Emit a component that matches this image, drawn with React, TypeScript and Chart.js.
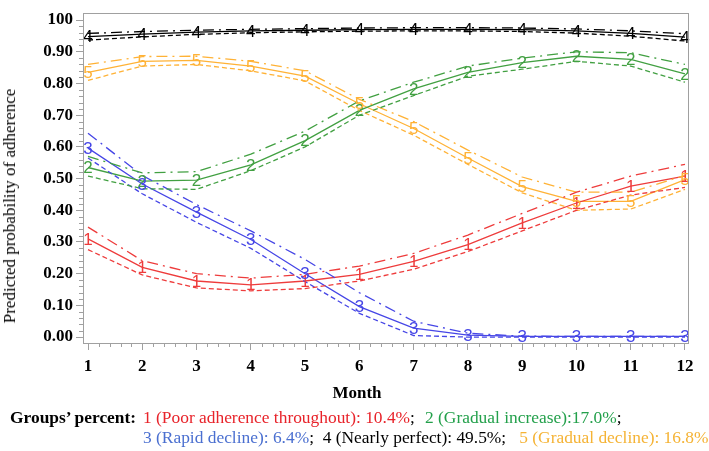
import React, { useEffect, useRef } from "react";
import { Chart, registerables } from "chart.js";

Chart.register(...registerables);

// ---------- data ----------
const months = [1, 2, 3, 4, 5, 6, 7, 8, 9, 10, 11, 12];
const yTickValues = [0, 0.1, 0.2, 0.3, 0.4, 0.5, 0.6, 0.7, 0.8, 0.9, 1.0];
const yTickLabels = ["0.00", "0.10", "0.20", "0.30", "0.40", "0.50", "0.60", "0.70", "0.80", "0.90", "100"];

// Group 1: Poor adherence throughout
const g1Est = [0.31, 0.22, 0.177, 0.165, 0.177, 0.198, 0.239, 0.292, 0.36, 0.423, 0.476, 0.508];
const g1Lo = [0.276, 0.196, 0.155, 0.146, 0.153, 0.177, 0.214, 0.27, 0.335, 0.4, 0.448, 0.472];
const g1Hi = [0.347, 0.241, 0.2, 0.186, 0.198, 0.224, 0.264, 0.322, 0.39, 0.457, 0.508, 0.545];

// Group 2: Gradual increase
const g2Est = [0.535, 0.492, 0.495, 0.543, 0.62, 0.715, 0.783, 0.835, 0.866, 0.886, 0.876, 0.83];
const g2Lo = [0.508, 0.468, 0.466, 0.525, 0.6, 0.7, 0.762, 0.823, 0.845, 0.87, 0.855, 0.804];
const g2Hi = [0.57, 0.518, 0.522, 0.577, 0.65, 0.745, 0.804, 0.855, 0.88, 0.9, 0.897, 0.86];

// Group 3: Rapid decline
const g3Est = [0.596, 0.483, 0.394, 0.308, 0.2, 0.096, 0.028, 0.006, 0.002, 0.002, 0.002, 0.002];
const g3Lo = [0.565, 0.452, 0.362, 0.28, 0.175, 0.075, 0.005, 0.0, 0.0, 0.0, 0.0, 0.0];
const g3Hi = [0.643, 0.51, 0.418, 0.335, 0.245, 0.14, 0.05, 0.012, 0.003, 0.002, 0.002, 0.002];

// Group 4: Nearly perfect
const g4Est = [0.948, 0.956, 0.962, 0.966, 0.968, 0.97, 0.971, 0.971, 0.97, 0.966, 0.958, 0.946];
const g4Lo = [0.937, 0.947, 0.955, 0.96, 0.963, 0.965, 0.966, 0.966, 0.964, 0.959, 0.949, 0.934];
const g4Hi = [0.958, 0.964, 0.968, 0.971, 0.973, 0.975, 0.976, 0.976, 0.975, 0.972, 0.966, 0.957];

// Group 5: Gradual decline
const g5Est = [0.835, 0.87, 0.873, 0.855, 0.823, 0.736, 0.658, 0.565, 0.475, 0.428, 0.428, 0.497];
const g5Lo = [0.81, 0.855, 0.86, 0.84, 0.808, 0.715, 0.637, 0.545, 0.455, 0.4, 0.404, 0.466];
const g5Hi = [0.86, 0.885, 0.886, 0.87, 0.84, 0.75, 0.68, 0.59, 0.505, 0.457, 0.457, 0.51];

const groupIds = ["1", "2", "3", "4", "5"];
const groupColors = ["#ee3c3c", "#42a042", "#4646e6", "#000000", "#ffb236"];
const groupNames = ["1 (Poor adherence throughout): 10.4%", "2 (Gradual increase):17.0%", "3 (Rapid decline): 6.4%", "4 (Nearly perfect): 49.5%", "5 (Gradual decline): 16.8%"];
const legendTextColors = ["#e8232a", "#23a04b", "#4a6fd0", "#000000", "#f5b335"];

const SERIF = '"Liberation Serif", "Times New Roman", serif';

const groups = [
  { est: g1Est, lo: g1Lo, hi: g1Hi },
  { est: g2Est, lo: g2Lo, hi: g2Hi },
  { est: g3Est, lo: g3Lo, hi: g3Hi },
  { est: g4Est, lo: g4Lo, hi: g4Hi },
  { est: g5Est, lo: g5Lo, hi: g5Hi },
];

function toPts(arr: number[]) {
  return months.map((m, i) => ({ x: m, y: arr[i] }));
}

function buildDatasets() {
  const ds: any[] = [];
  groups.forEach((g, gi) => {
    const color = groupColors[gi];
    ds.push({
      label: `G${groupIds[gi]} lower`,
      data: toPts(g.lo),
      borderColor: color,
      borderWidth: 1.3,
      borderDash: [5, 3],
      pointRadius: 0,
      fill: false,
    });
    ds.push({
      label: `G${groupIds[gi]} upper`,
      data: toPts(g.hi),
      borderColor: color,
      borderWidth: 1.3,
      borderDash: [11, 5, 2, 5],
      pointRadius: 0,
      fill: false,
    });
  });
  groups.forEach((g, gi) => {
    const color = groupColors[gi];
    ds.push({
      label: `Group ${groupIds[gi]}`,
      data: toPts(g.est),
      borderColor: color,
      borderWidth: 1.3,
      pointRadius: 0,
      fill: false,
      markerText: groupIds[gi],
    });
  });
  return ds;
}

const markerPlugin = {
  id: "markerText",
  afterDatasetsDraw(chart: any) {
    const ctx = chart.ctx;
    chart.data.datasets.forEach((ds: any, i: number) => {
      if (!ds.markerText) return;
      const meta = chart.getDatasetMeta(i);
      ctx.save();
      ctx.fillStyle = ds.borderColor;
      ctx.font = '17px "Liberation Sans", Arial, sans-serif';
      ctx.textAlign = "center";
      ctx.textBaseline = "middle";
      meta.data.forEach((pt: any) => ctx.fillText(ds.markerText, pt.x, pt.y + 1));
      ctx.restore();
    });
  },
};

const framePlugin = {
  id: "frameAndMinor",
  afterDraw(chart: any) {
    const ctx = chart.ctx;
    const a = chart.chartArea;
    const xs = chart.scales.x;
    const ys = chart.scales.y;
    ctx.save();
    ctx.strokeStyle = "#a0a0a0";
    ctx.lineWidth = 1;
    ctx.strokeRect(Math.round(a.left) + 0.5, Math.round(a.top) + 0.5, Math.round(a.right - a.left), Math.round(a.bottom - a.top));
    ctx.beginPath();
    for (let m = 1; m < 12; m++) {
      for (let k = 1; k < 5; k++) {
        const px = Math.round(xs.getPixelForValue(m + k * 0.2)) + 0.5;
        ctx.moveTo(px, a.bottom);
        ctx.lineTo(px, a.bottom + 4);
      }
    }
    for (let t = 0; t < 10; t++) {
      for (let k = 1; k < 5; k++) {
        const py = Math.round(ys.getPixelForValue(t * 0.1 + k * 0.02)) + 0.5;
        ctx.moveTo(a.left, py);
        ctx.lineTo(a.left - 4, py);
      }
    }
    ctx.stroke();
    ctx.restore();
  },
};

export default function App() {
  const ref = useRef<HTMLCanvasElement>(null);
  useEffect(() => {
    if (!ref.current) return;
    const chart = new Chart(ref.current, {
      type: "line",
      data: { datasets: buildDatasets() },
      options: {
        responsive: false,
        animation: false,
        layout: { padding: { left: 0, top: 8, right: 21, bottom: 0 } },
        plugins: { legend: { display: false }, tooltip: { enabled: false } },
        scales: {
          x: {
            type: "linear",
            min: 1 - 5 / 54.27,
            max: 12 + 3 / 54.27,
            afterBuildTicks: (scale: any) => {
              scale.ticks = months.map((m) => ({ value: m }));
            },
            afterFit: (scale: any) => {
              scale.height = 108;
            },
            grid: { display: true, drawOnChartArea: false, drawTicks: true, tickLength: 7, color: "#a0a0a0" },
            border: { display: true, color: "#a0a0a0" },
            ticks: {
              callback: (v: any) => String(v),
              font: { family: SERIF, size: 17, weight: "bold" },
              color: "#000",
              padding: 6,
              maxRotation: 0,
              autoSkip: false,
            },
          },
          y: {
            type: "linear",
            min: -6 / 322,
            max: 1 + 7 / 322,
            afterBuildTicks: (scale: any) => {
              scale.ticks = yTickValues.map((v) => ({ value: v }));
            },
            afterFit: (scale: any) => {
              scale.width = 83;
            },
            grid: { display: true, drawOnChartArea: false, drawTicks: true, tickLength: 7, color: "#a0a0a0" },
            border: { display: true, color: "#a0a0a0" },
            ticks: {
              callback: (_v: any, i: number) => yTickLabels[i],
              font: { family: SERIF, size: 17, weight: "bold" },
              color: "#000",
              padding: 3,
              autoSkip: false,
            },
          },
        },
      },
      plugins: [markerPlugin, framePlugin],
    } as any);
    return () => chart.destroy();
  }, []);

  const lineStyle: React.CSSProperties = {
    position: "absolute",
    fontFamily: SERIF,
    fontSize: 17.4,
    lineHeight: "20px",
    whiteSpace: "pre",
    color: "#000",
  };

  const item = (gi: number, semi: boolean) => (
    <>
      <span style={{ color: legendTextColors[gi] }}>{groupNames[gi]}</span>
      {semi ? <span>;</span> : null}
    </>
  );

  return (
    <div style={{ position: "fixed", left: 0, top: 0, width: 709, height: 451, background: "#fff" }}>
      <canvas ref={ref} width={709} height={451} style={{ position: "absolute", left: 0, top: 0, width: 709, height: 451 }} />
      <div
        style={{
          ...lineStyle,
          fontSize: 17,
          left: 10,
          top: 206,
          transform: "translate(-50%, -50%) rotate(-90deg)",
        }}
      >
        Predicted probability of adherence
      </div>
      <div style={{ ...lineStyle, fontSize: 17, left: 357, top: 383, transform: "translateX(-50%)", fontWeight: "bold" }}>Month</div>
      <div style={{ ...lineStyle, left: 10, top: 407, fontWeight: "bold" }}>Groups’ percent:</div>
      <div style={{ ...lineStyle, left: 143, top: 407 }}>{item(0, true)}</div>
      <div style={{ ...lineStyle, left: 425, top: 407 }}>{item(1, true)}</div>
      <div style={{ ...lineStyle, left: 143, top: 427 }}>
        {item(2, true)}
        {"  "}
        {item(3, true)}
        {"   "}
        {item(4, false)}
      </div>
    </div>
  );
}
